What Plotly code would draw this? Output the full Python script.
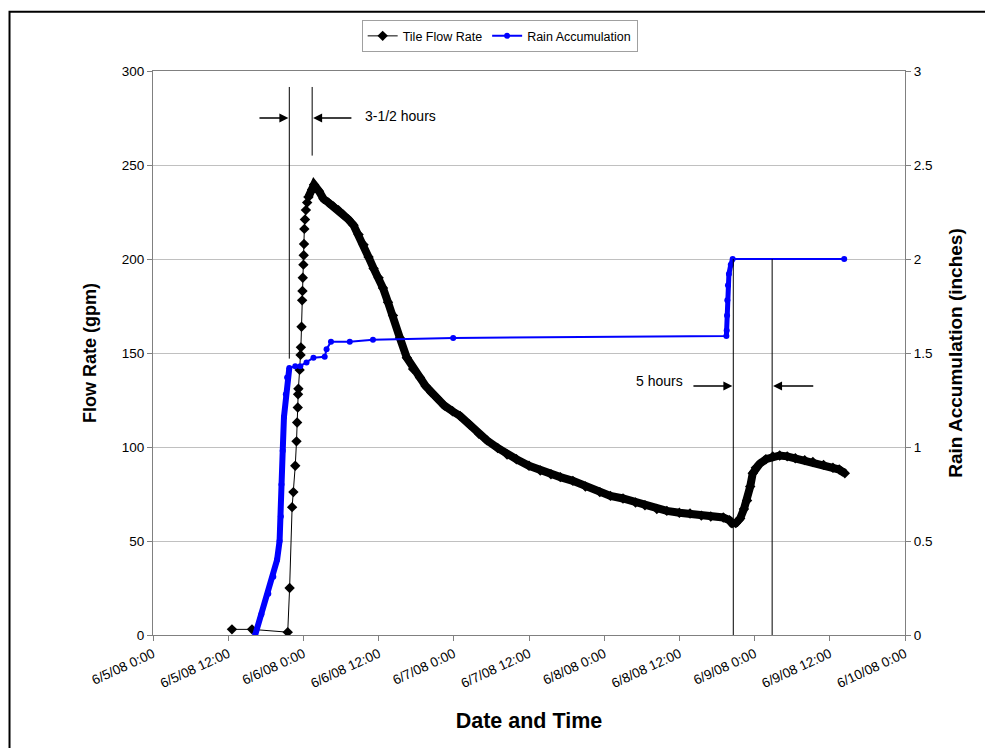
import pandas as pd
import plotly.graph_objects as go

BASE = pd.Timestamp("2008-06-05 00:00")

# Tile flow rate: hours after 6/5/08 0:00, gpm
tile_hours = [12.6, 15.8, 21.5, 21.8, 22.2, 22.4, 22.7, 22.9, 23.0, 23.1, 23.15, 23.2, 23.4,
              23.55, 23.6, 23.7, 23.8, 23.85, 23.9, 24.0, 24.05, 24.1, 24.15, 24.25, 24.4,
              24.6, 24.8, 25.4, 25.7, 26.5, 27.2, 28.0, 28.8, 29.6, 30.4, 31.2, 32.0, 32.8,
              33.6, 34.4, 35.2, 36.0, 36.7, 37.5, 38.3, 39.4, 40.5, 41.5, 42.6, 43.5, 44.4,
              45.3, 46.5, 47.8, 49.0, 50.5, 52.0, 53.3, 55.0, 56.5, 58.0, 60.0, 61.8, 63.5,
              65.0, 67.0, 69.0, 71.3, 73.0, 75.0, 77.0, 78.5, 80.4, 82.0, 84.0, 85.7, 87.5,
              89.0, 91.0, 92.0, 92.4, 93.0, 93.7, 94.3, 94.8, 95.3, 95.7, 96.2, 96.8, 97.8,
              98.9, 100.0, 101.2, 102.5, 104.0, 105.3, 107.0, 108.5, 109.5, 110.4]
tile_gpm = [3, 3, 1.5, 25, 68, 76, 90, 103, 113, 121, 128, 131, 141,
            149, 153, 164, 178, 183, 190, 197, 202, 208, 216, 221, 226,
            230, 233, 237, 239.5, 236, 232, 230, 228, 226, 223.5, 221, 218, 213,
            207.6, 201, 195, 190, 184.6, 177, 170, 158, 147.5, 141.5, 137, 132.5, 129,
            126, 122, 119, 116.5, 112, 107, 103.5, 99.5, 96, 93.5, 90, 87.5, 85.5,
            84, 82, 79, 76, 74, 72.6, 70.5, 69, 67, 66, 65, 64.6, 63.5,
            63, 62.5, 61, 59.4, 59.5, 62, 67, 71.5, 79, 86, 89, 91, 93.5,
            95, 95.5, 95, 94, 93, 92, 90.5, 89, 88, 86]

# Rain accumulation: hours after 6/5/08 0:00, inches
rain_hours = [16.3, 17.3, 18.4, 19.2, 19.8, 20.2, 20.4, 20.5, 20.7, 20.9, 21.2, 21.4, 21.75,
              22.7, 23.5, 24.5, 25.6, 27.4, 27.7, 28.4, 31.4, 35.1, 47.9, 91.5, 91.55,
              91.6, 91.65, 91.75, 91.9, 92.2, 92.5, 110.3]
rain_in = [0.0, 0.11, 0.22, 0.31, 0.40, 0.50, 0.63, 0.80, 0.98, 1.16, 1.28, 1.37, 1.42,
           1.43, 1.43, 1.45, 1.475, 1.48, 1.52, 1.56, 1.56, 1.57, 1.58, 1.59, 1.62,
           1.70, 1.78, 1.86, 1.92, 1.97, 2.0, 2.0]

tick_hours = list(range(0, 121, 12))

def t(h):
    return BASE + pd.to_timedelta(h, unit="h")

tile_x = [t(h) for h in tile_hours]
rain_x = [t(h) for h in rain_hours]

FONT = "Liberation Sans, Arial, sans-serif"
BLUE = "#0000ff"

fig = go.Figure()

peak_i = tile_gpm.index(max(tile_gpm))
# thick band for the dense recession part of the flow record
fig.add_trace(go.Scatter(x=tile_x[peak_i - 2:], y=tile_gpm[peak_i - 2:], mode="lines",
                         line=dict(color="black", width=8), showlegend=False,
                         hoverinfo="skip"))
# thick bands for dense parts of the rain record
fig.add_trace(go.Scatter(x=rain_x[:13], y=rain_in[:13], mode="lines", yaxis="y2",
                         line=dict(color=BLUE, width=6), showlegend=False, hoverinfo="skip"))
fig.add_trace(go.Scatter(x=rain_x[23:31], y=rain_in[23:31], mode="lines", yaxis="y2",
                         line=dict(color=BLUE, width=5), showlegend=False, hoverinfo="skip"))

fig.add_trace(go.Scatter(x=tile_x, y=tile_gpm, mode="lines+markers", name="Tile Flow Rate",
                         line=dict(color="black", width=1),
                         marker=dict(symbol="diamond", size=8, color="black")))
fig.add_trace(go.Scatter(x=rain_x, y=rain_in, mode="lines+markers", name="Rain Accumulation",
                         yaxis="y2", line=dict(color=BLUE, width=2),
                         marker=dict(symbol="circle", size=6, color=BLUE)))

# annotation lines
line_style = dict(color="black", width=1)
fig.add_shape(type="line", x0=t(21.75), x1=t(21.75), y0=147, y1=291.5, xref="x", yref="y", line=line_style)
fig.add_shape(type="line", x0=t(25.4), x1=t(25.4), y0=255, y1=291.5, xref="x", yref="y", line=line_style)
fig.add_shape(type="line", x0=t(92.6), x1=t(92.6), y0=0, y1=200, xref="x", yref="y", line=line_style)
fig.add_shape(type="line", x0=t(98.8), x1=t(98.8), y0=0, y1=200, xref="x", yref="y", line=line_style)

def arrow(head_h, tail_h, y):
    fig.add_annotation(x=t(head_h), y=y, ax=t(tail_h), ay=y, xref="x", yref="y",
                       axref="x", ayref="y", text="", showarrow=True, arrowhead=2,
                       arrowsize=1.2, arrowwidth=1.5, arrowcolor="black")

arrow(21.6, 16.75, 275)
arrow(25.55, 31.9, 275)
arrow(92.45, 86.0, 132.5)
arrow(98.95, 105.6, 132.5)

fig.add_annotation(x=t(33.5), y=276, xref="x", yref="y", text="3-1/2 hours", showarrow=False,
                   xanchor="left", font=dict(family=FONT, size=14, color="black"))
fig.add_annotation(x=t(84.9), y=135, xref="x", yref="y", text="5 hours", showarrow=False,
                   xanchor="right", font=dict(family=FONT, size=14, color="black"))

# outer frame
fig.add_shape(type="rect", xref="paper", yref="paper", x0=-0.1908, x1=1.25, y0=-0.3, y1=1.1051,
              line=dict(color="black", width=2), layer="below")

fig.update_layout(
    width=985, height=740,
    margin=dict(l=145, r=88, t=61, b=113),
    paper_bgcolor="white", plot_bgcolor="white",
    font=dict(family=FONT, size=13.5, color="black"),
    showlegend=True,
    legend=dict(orientation="h", x=0.461, y=1.09, xanchor="center", yanchor="top",
                bordercolor="#a0a0a0", borderwidth=1, bgcolor="white",
                font=dict(family=FONT, size=12.5), itemwidth=30,
                tracegroupgap=0),
    xaxis=dict(type="date", range=[t(0), t(120)],
               tickvals=[t(h) for h in tick_hours], tickformat="%-m/%-d/%y %-H:%M",
               tickangle=-25, ticks="outside", ticklen=5, tickcolor="#808080",
               showline=True, linecolor="#808080", mirror=True, showgrid=False,
               zeroline=False, tickfont=dict(family=FONT, size=13.5),
               title=dict(text="<b>Date and Time</b>", font=dict(family=FONT, size=21.5),
                          standoff=22)),
    yaxis=dict(range=[0, 300], dtick=50, ticks="outside", ticklen=5, tickcolor="#808080",
               showline=True, linecolor="#808080", mirror=True, showgrid=True,
               gridcolor="#c0c0c0", gridwidth=1, zeroline=False,
               tickfont=dict(family=FONT, size=13.5),
               title=dict(text="<b>Flow Rate (gpm)</b>", font=dict(family=FONT, size=18),
                          standoff=20)),
    yaxis2=dict(range=[0, 3], dtick=0.5, overlaying="y", side="right", ticks="outside",
                ticklen=5, tickcolor="#808080", showline=True, linecolor="#808080",
                showgrid=False, zeroline=False, tickfont=dict(family=FONT, size=13.5),
                title=dict(text="<b>Rain Accumulation (inches)</b>",
                           font=dict(family=FONT, size=19), standoff=17)),
)

fig.write_html("out.html")
